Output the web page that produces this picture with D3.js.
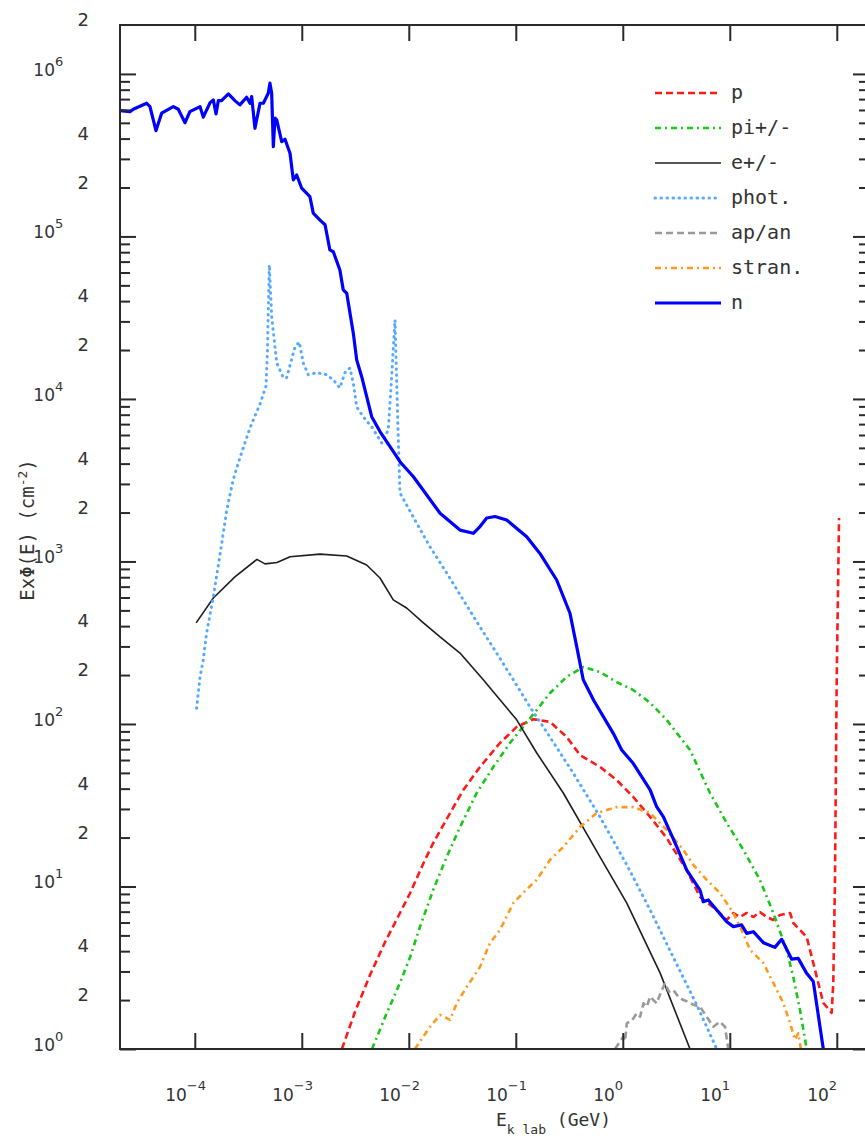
<!DOCTYPE html>
<html>
<head>
<meta charset="utf-8">
<script src="https://cdn.jsdelivr.net/npm/d3@7"></script>
<style>
  html, body { margin: 0; padding: 0; background: #fff; }
  svg { display: block; }
</style>
</head>
<body>
<svg id="chart" width="865" height="1142"></svg>
<script>
// ---------------- DATA (E in GeV, E*Phi(E) in cm^-2) ----------------
const xDecades = [-4, -3, -2, -1, 0, 1, 2];
const yDecades = [0, 1, 2, 3, 4, 5, 6];
const yMinorLabels = [2, 4];

const seriesNames  = ["p", "pi+/-", "e+/-", "phot.", "ap/an", "stran.", "n"];

const protons = [
  [2.37e-3,1],[3.14e-3,1.69],[4.34e-3,2.85],[6.0e-3,4.55],[8.27e-3,6.87],[1.03e-2,9.12],
  [1.37e-2,13.9],[1.69e-2,18.5],[2.43e-2,28.3],[3.23e-2,39.2],[4.63e-2,54.4],[7.11e-2,76.4],
  [0.102,95.9],[0.146,107],[0.209,103],[0.299,83.2],[0.398,64.4],[0.612,54.4],[0.877,45.2],
  [1.25,35.6],[1.80,26.8],[2.57,19.9],[3.96,12.6],[5.27,8.62],[7.55,7.17],[9.35,6.22],
  [10.8,6.87],[12.4,6.49],[14.4,6.87],[16.6,6.49],[19.1,6.97],[22.1,6.49],[25.5,6.22],
  [29.5,6.68],[36.6,6.87],[39.2,5.96],[45.3,5.40],[52.3,4.89],[60.3,3.38],[74.8,1.92],
  [89.6,1.67],[92.7,2.55],[96.1,10.5],[99.8,187],[105,1850]
];

const pions = [
  [4.53e-3,1],[6.12e-3,1.62],[8.27e-3,2.55],[1.03e-2,3.68],[1.27e-2,5.63],[1.69e-2,9.51],
  [2.26e-2,15.2],[3.01e-2,23.2],[4.31e-2,37.6],[6.16e-2,54.4],[8.83e-2,76.4],[0.117,95.9],
  [0.157,122],[0.209,155],[0.299,195],[0.427,224],[0.612,209],[0.877,181],[1.25,162],
  [1.80,135],[2.57,106],[4.25,69.2],[6.53,37.6],[9.35,24.6],[13.4,16.8],[19.1,11.0],
  [25.5,6.87],[34.0,4.07],[39.2,2.77],[45.3,1.74],[52.3,1]
];

const electrons = [
  [1.03e-4,419],[1.49e-4,596],[2.37e-4,803],[3.81e-4,1030],[4.53e-4,966],[5.87e-4,986],
  [7.76e-4,1070],[1.48e-3,1110],[2.63e-3,1080],[4.04e-3,951],[5.38e-3,791],[7.16e-3,580],
  [9.55e-3,517],[1.37e-2,419],[1.96e-2,343],[3.01e-2,273],[4.97e-2,187],[7.11e-2,141],
  [0.102,106],[0.157,66.3],[0.278,37.6],[0.612,15.2],[1.09,7.91],[2.23,2.94],[4.25,1]
];

const photons = [
  [1.04e-4,125],[1.12e-4,195],[1.20e-4,248],[1.29e-4,363],[1.49e-4,605],[1.72e-4,1100],
  [1.99e-4,2070],[2.28e-4,3170],[2.64e-4,4340],[3.28e-4,6630],[4.07e-4,9310],[4.63e-4,12000],
  [4.78e-4,20000],[4.97e-4,66800],[5.23e-4,32000],[5.83e-4,16700],[6.72e-4,13500],
  [7.22e-4,13500],[8.64e-4,20900],[9.48e-4,22400],[1.03e-3,16700],[1.15e-3,14100],
  [1.38e-3,14500],[1.71e-3,14100],[1.97e-3,13100],[2.27e-3,11700],[2.53e-3,14500],
  [2.82e-3,15500],[3.03e-3,12500],[3.26e-3,8930],[3.76e-3,7750],[4.50e-3,6730],
  [5.58e-3,5360],[6.43e-3,6440],[6.92e-3,13700],[7.43e-3,30600],[7.71e-3,12500],
  [7.98e-3,5590],[8.27e-3,2640],[1.10e-2,1880],[1.58e-2,1230],[2.26e-2,849],[3.23e-2,580],
  [4.63e-2,395],[6.62e-2,273],[9.48e-2,187],[0.136,127],[0.181,95.9],[0.344,49.9],
  [0.612,26.8],[1.09,13.6],[1.80,7.17],[2.96,3.68],[4.91,1.87],[7.55,1]
];

const antiNucleons = [
  [0.845,1],[1.01,1.19],[1.05,1.12],[1.09,1.44],[1.22,1.50],[1.35,1.66],[1.45,1.58],
  [1.56,1.91],[1.68,1.82],[1.80,2.10],[2.07,1.91],[2.25,2.20],[2.48,2.54],[2.70,2.25],
  [2.96,2.31],[3.3,2.10],[3.68,2.0],[4.1,1.95],[4.56,1.87],[5.27,1.82],[6.08,1.58],
  [7.01,1.37],[8.09,1.47],[9.02,1.37],[9.68,1]
];

const strange = [
  [1.14e-2,1],[1.58e-2,1.37],[1.96e-2,1.62],[2.43e-2,1.51],[2.81e-2,1.92],[3.48e-2,2.41],
  [4.63e-2,3.2],[5.74e-2,4.49],[7.11e-2,5.40],[9.48e-2,7.91],[0.117,9.12],[0.157,11.0],
  [0.209,14.6],[0.278,17.5],[0.398,23.2],[0.570,28.3],[0.877,30.8],[1.25,30.8],[1.80,28.3],
  [2.57,22.3],[3.68,16.8],[4.56,13.6],[6.08,11.0],[8.09,9.12],[10.8,6.87],[12.9,5.40],
  [15.5,4.07],[20.6,3.38],[25.5,2.55],[31.6,1.92],[36.6,1.45],[40.6,1.14],[43.6,1.25],[46.2,1]
];

const neutrons = [
  [2.0e-5,5.94e5],[2.48e-5,5.86e5],[2.66e-5,6.06e5],[3.55e-5,6.6e5],[3.81e-5,6.29e5],
  [4.34e-5,4.48e5],[4.9e-5,5.73e5],[6.3e-5,6.29e5],[7.01e-5,6.06e5],[8.1e-5,5.01e5],
  [9.0e-5,5.86e5],[1.12e-4,6.29e5],[1.2e-4,5.42e5],[1.39e-4,6.66e5],[1.49e-4,6.92e5],
  [1.58e-4,5.67e5],[1.66e-4,6.85e5],[1.78e-4,6.85e5],[2.06e-4,7.53e5],[2.37e-4,6.85e5],
  [2.64e-4,6.45e5],[3.05e-4,7.19e5],[3.28e-4,6.6e5],[3.4e-4,7.25e5],[3.65e-4,4.63e5],
  [4.07e-4,6.6e5],[4.37e-4,6.6e5],[4.86e-4,7.6e5],[5.04e-4,8.77e5],[5.23e-4,7.6e5],
  [5.42e-4,3.57e5],[5.62e-4,5.34e5],[5.83e-4,5.21e5],[6.49e-4,3.83e5],[6.97e-4,3.96e5],
  [7.76e-4,3.25e5],[8.33e-4,2.23e5],[8.96e-4,2.39e5],[9.98e-4,1.98e5],[1.19e-3,1.76e5],
  [1.28e-3,1.39e5],[1.48e-3,1.26e5],[1.65e-3,1.18e5],[1.83e-3,8.26e4],[1.97e-3,8.05e4],
  [2.27e-3,6.22e4],[2.44e-3,4.69e4],[2.63e-3,4.47e4],[3.03e-3,2.54e4],[3.26e-3,1.74e4],
  [3.63e-3,1.37e4],[4.5e-3,7.78e3],[5.38e-3,6.3e3],[7.71e-3,4.42e3],[8.27e-3,4.11e3],
  [1.1e-2,3.33e3],[1.96e-2,1.98e3],[3.01e-2,1.56e3],[4.01e-2,1.49e3],[4.63e-2,1.64e3],
  [5.35e-2,1.85e3],[6.39e-2,1.89e3],[8.22e-2,1.8e3],[0.1265,1.42e3],[0.168,1.12e3],
  [0.241,769],[0.321,480],[0.371,299],[0.427,187],[0.534,140],[0.815,87.6],[0.977,69.2],
  [1.25,57.3],[1.80,39.3],[2.07,31],[2.39,26.9],[3.19,17.6],[3.96,12.6],[5.27,9.5],
  [5.65,8.06],[6.3,8.26],[9.35,6.07],[10.8,5.66],[12.9,5.8],[14.4,5.15],[16.6,5.27],
  [20.6,4.51],[26.4,4.22],[30.5,4.73],[37.9,3.57],[43.6,3.61],[52.3,2.92],[60.3,2.6],[74.8,1]
];

// ---------------- LAYOUT ----------------
const svg = d3.select("#chart");
const L = 120, R = 869, T = 25, B = 1049;
const x = d3.scaleLog().domain([2e-5, 2e2]).range([L, R]);
const y = d3.scaleLog().domain([1, 2e6]).range([B, T]);
const ink = "#2a2a2a";

svg.append("defs").append("clipPath").attr("id", "plotclip")
  .append("rect").attr("x", L).attr("y", T).attr("width", R - L).attr("height", B - T);

// ---------------- CURVES ----------------
const styles = [
  { data: protons,      color: "#ff1a1a", width: 2.6, dash: "7,4" },
  { data: pions,        color: "#19c719", width: 2.6, dash: "6,4,2,4" },
  { data: electrons,    color: "#1e1e1e", width: 1.6, dash: null },
  { data: photons,      color: "#55aaff", width: 3,   dash: "0.5,5.5", cap: "round" },
  { data: antiNucleons, color: "#9a9a9a", width: 2.6, dash: "7,4" },
  { data: strange,      color: "#ff9a1f", width: 2.6, dash: "6,4,2,4" },
  { data: neutrons,     color: "#0000ff", width: 3.2, dash: null }
];

const line = d3.line().x(d => x(d[0])).y(d => y(d[1]));
const gCurves = svg.append("g").attr("clip-path", "url(#plotclip)");
styles.forEach(s => {
  gCurves.append("path")
    .attr("d", line(s.data))
    .attr("fill", "none")
    .attr("stroke", s.color)
    .attr("stroke-width", s.width)
    .attr("stroke-linejoin", "round")
    .attr("stroke-linecap", s.cap || "butt")
    .attr("stroke-dasharray", s.dash);
});

// ---------------- FRAME & TICKS ----------------
const gAx = svg.append("g").attr("stroke", ink).attr("stroke-width", 2).attr("fill", "none");
gAx.append("rect").attr("x", L).attr("y", T).attr("width", R - L).attr("height", B - T);

// x decade ticks (bottom up, top down)
const xMajor = xDecades.map(p => Math.pow(10, p));
const bottomAxis = d3.axisBottom(x).tickValues(xMajor).tickSize(-16).tickFormat("");
const topAxis = d3.axisTop(x).tickValues(xMajor).tickSize(-16).tickFormat("");
[svg.append("g").attr("transform", `translate(0,${B})`).call(bottomAxis),
 svg.append("g").attr("transform", `translate(0,${T})`).call(topAxis)].forEach(g => {
  g.select(".domain").remove();
  g.selectAll("line").attr("stroke", ink).attr("stroke-width", 2);
});

// y ticks
const yMajor = yDecades.map(p => Math.pow(10, p));
const yMinor = [];
yDecades.slice(0, -1).forEach(p => { for (let m = 2; m <= 9; m++) yMinor.push(m * Math.pow(10, p)); });
function yTicks(axisFn, xpos) {
  const gM = svg.append("g").attr("transform", `translate(${xpos},0)`)
    .call(axisFn(y).tickValues(yMajor).tickSize(-16).tickFormat(""));
  const gm = svg.append("g").attr("transform", `translate(${xpos},0)`)
    .call(axisFn(y).tickValues(yMinor).tickSize(-10).tickFormat(""));
  [gM, gm].forEach(g => {
    g.select(".domain").remove();
    g.selectAll("line").attr("stroke", ink).attr("stroke-width", 2);
  });
}
yTicks(d3.axisLeft, L);
yTicks(d3.axisRight, R);

// ---------------- TICK LABELS ----------------
const labelFont = "'DejaVu Sans', sans-serif";
const gLab = svg.append("g").attr("fill", "#333").style("font-family", labelFont);

// y decade labels
yDecades.forEach(p => {
  const yy = y(Math.pow(10, p));
  gLab.append("text").attr("x", 55).attr("y", yy + 2).attr("text-anchor", "end")
    .style("font-size", "17px").text("10");
  gLab.append("text").attr("x", 55).attr("y", yy - 8).attr("text-anchor", "start")
    .style("font-size", "13px").text(String(p));
});
// y 2 and 4 labels
const yMinorLabelVals = [];
yDecades.slice(0, -1).forEach(p => yMinorLabels.forEach(m => yMinorLabelVals.push([m, m * Math.pow(10, p)])));
yMinorLabelVals.push([2, 2e6]);
yMinorLabelVals.forEach(([m, v]) => {
  gLab.append("text").attr("x", 89).attr("y", y(v) + 1).attr("text-anchor", "end")
    .style("font-size", "18px").text(String(m));
});

// x decade labels
xDecades.forEach(p => {
  const xx = x(Math.pow(10, p));
  gLab.append("text").attr("x", xx - 8).attr("y", 1101).attr("text-anchor", "end")
    .style("font-size", "17px").text("10");
  gLab.append("text").attr("x", xx - 8).attr("y", 1090).attr("text-anchor", "start")
    .style("font-size", "13px").text(String(p).replace("-", "\u2212"));
});

// ---------------- AXIS TITLES ----------------
const monoFont = "'DejaVu Sans Mono', monospace";
const xt = svg.append("text").attr("x", 496).attr("y", 1126).attr("fill", "#333")
  .style("font-family", monoFont).style("font-size", "18px");
xt.append("tspan").text("E");
xt.append("tspan").attr("dy", 8).style("font-size", "13px").text("k lab");
xt.append("tspan").attr("dy", -8).text(" (GeV)");

const yt = svg.append("text").attr("transform", "translate(34,530) rotate(-90)")
  .attr("text-anchor", "middle").attr("fill", "#333")
  .style("font-family", monoFont).style("font-size", "19px");
yt.append("tspan").text("Ex\u03A6(E)  (cm");
yt.append("tspan").attr("dy", -7).style("font-size", "13px").text("-2");
yt.append("tspan").attr("dy", 7).text(")");

// ---------------- LEGEND ----------------
const gLeg = svg.append("g");
styles.forEach((s, i) => {
  const ly = 93 + i * 35;
  gLeg.append("line").attr("x1", 655).attr("x2", 721).attr("y1", ly).attr("y2", ly)
    .attr("stroke", s.color).attr("stroke-width", s.width)
    .attr("stroke-linecap", s.cap || "butt").attr("stroke-dasharray", s.dash);
  gLeg.append("text").attr("x", 731).attr("y", ly + 6).attr("fill", "#333")
    .style("font-family", monoFont).style("font-size", "20px").text(seriesNames[i]);
});
</script>
</body>
</html>
